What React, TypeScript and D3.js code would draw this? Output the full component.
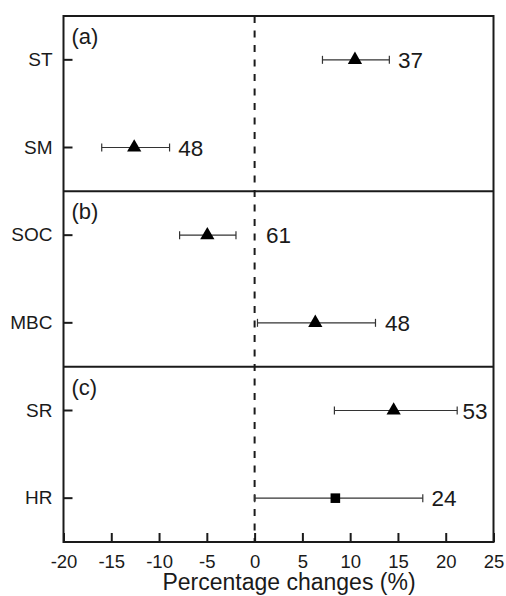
import React, { useEffect, useRef } from "react";
import * as d3 from "d3";

// rows, top to bottom
const rows = ["ST", "SM", "SOC", "MBC", "SR", "HR"];
const panels = ["(a)", "(b)", "(c)"];
const means = [10.5, -12.6, -4.95, 6.35, 14.55, 8.45];
const lower = [7.1, -16.0, -7.85, 0.3, 8.35, 0.0];
const upper = [14.1, -8.9, -1.95, 12.65, 21.2, 17.6];
const counts = [37, 48, 61, 48, 53, 24];
// where the sample size label starts (x units)
const countAt = [15.0, -8.0, 1.2, 13.65, 21.75, 18.5];
const shapes = ["triangle", "triangle", "triangle", "triangle", "triangle", "square"];
const xTicks = [-20, -15, -10, -5, 0, 5, 10, 15, 20, 25];

const App = () => {
  const svgRef = useRef<SVGSVGElement>(null);

  useEffect(() => {
    const svg = d3.select(svgRef.current);
    svg.selectAll("*").remove();

    const font = "'Liberation Sans', Arial, Helvetica, sans-serif";
    const margin = { top: 16, left: 63.5, right: 12.5, bottom: 54 };
    const W = 506, H = 596;
    const left = margin.left, right = W - margin.right;
    const top = margin.top, bottom = H - margin.bottom;

    const x = d3.scaleLinear().domain([-20, 25]).range([left, right]);
    const y = d3.scaleBand().domain(rows).range([top, bottom]).padding(0);
    const cy = (r: string) => (y(r) as number) + y.bandwidth() / 2;
    const panelH = (bottom - top) / panels.length;

    const ink = "#1a1a1a";

    // zero line
    svg.append("line")
      .attr("x1", x(0)).attr("x2", x(0))
      .attr("y1", top).attr("y2", bottom)
      .attr("stroke", ink).attr("stroke-width", 2)
      .attr("stroke-dasharray", "7,7.5");

    // panel separators
    panels.forEach((p, i) => {
      if (i > 0) {
        svg.append("line")
          .attr("x1", left).attr("x2", right)
          .attr("y1", top + panelH * i).attr("y2", top + panelH * i)
          .attr("stroke", ink).attr("stroke-width", 2);
      }
      svg.append("text")
        .attr("x", left + 8).attr("y", top + panelH * i + 28)
        .attr("font-family", font).attr("font-size", 22)
        .attr("fill", ink).text(p);
    });

    // frame
    svg.append("rect")
      .attr("x", left).attr("y", top)
      .attr("width", right - left).attr("height", bottom - top)
      .attr("fill", "none").attr("stroke", ink).attr("stroke-width", 2);

    // x axis (ticks inward)
    const xAxis = d3.axisBottom(x).tickValues(xTicks).tickSize(-9).tickPadding(12.5)
      .tickFormat((d) => String(d));
    const gx = svg.append("g")
      .attr("transform", `translate(0, ${bottom})`)
      .call(xAxis);
    gx.select(".domain").remove();
    gx.selectAll("line").attr("stroke", ink).attr("stroke-width", 2);
    gx.selectAll("text").attr("font-family", font).attr("font-size", 18.5).attr("fill", ink);

    // y axis (ticks inward)
    const yAxis = d3.axisLeft(y).tickSize(-9).tickPadding(11);
    const gy = svg.append("g")
      .attr("transform", `translate(${left}, 0)`)
      .call(yAxis);
    gy.select(".domain").remove();
    gy.selectAll("line").attr("stroke", ink).attr("stroke-width", 2);
    gy.selectAll("text").attr("font-family", font).attr("font-size", 19).attr("fill", ink);

    // error bars
    const capH = 4;
    rows.forEach((r, i) => {
      const yy = cy(r);
      const g = svg.append("g");
      g.append("line")
        .attr("x1", x(lower[i])).attr("x2", x(upper[i]))
        .attr("y1", yy).attr("y2", yy)
        .attr("stroke", "#333").attr("stroke-width", 1.2);
      [lower[i], upper[i]].forEach((v) => {
        g.append("line")
          .attr("x1", x(v)).attr("x2", x(v))
          .attr("y1", yy - capH).attr("y2", yy + capH)
          .attr("stroke", "#333").attr("stroke-width", 1.2);
      });
      const sym = shapes[i] === "square"
        ? d3.symbol().type(d3.symbolSquare).size(92)
        : d3.symbol().type(d3.symbolTriangle).size(88);
      g.append("path")
        .attr("d", sym() as string)
        .attr("transform", `translate(${x(means[i])}, ${yy})`)
        .attr("fill", "#000");
      g.append("text")
        .attr("x", x(countAt[i])).attr("y", yy)
        .attr("dy", "0.36em")
        .attr("font-family", font).attr("font-size", 22.5)
        .attr("fill", ink).text(counts[i]);
    });

    // x title
    svg.append("text")
      .attr("x", 289).attr("y", 590)
      .attr("text-anchor", "middle")
      .attr("font-family", font).attr("font-size", 23)
      .attr("fill", ink).text("Percentage changes (%)");
  }, []);

  return (
    <div style={{ position: "absolute", left: 0, top: 0 }}>
      <svg ref={svgRef} width={506} height={596} style={{ display: "block", background: "#fff" }}></svg>
    </div>
  );
};

export default App;
